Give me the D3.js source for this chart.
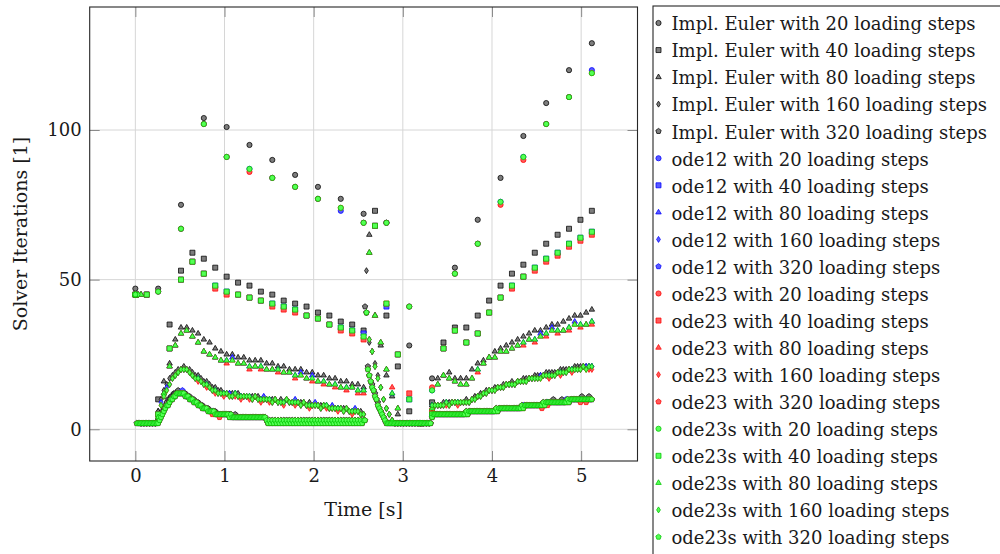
<!DOCTYPE html>
<html><head><meta charset="utf-8">
<script src="https://cdn.jsdelivr.net/npm/d3@7"></script>
<style>body{margin:0;background:#fff}svg{display:block}text{font-family:"DejaVu Serif",serif;fill:#1a1a1a}</style>
</head><body><svg id="c" width="1000" height="554"></svg>
<script>
const T_END = 5.12;
const stepCounts = [20, 40, 80, 160, 320];
const solvers = ['Impl. Euler', 'ode12', 'ode23', 'ode23s'];
const xTicks = [0, 1, 2, 3, 4, 5];
const yTicks = [0, 50, 100];

// ---- 20 loading steps ----
const implEuler20 = [47,47,75,104,101,95,90,85,81,77,72,69,28,17,54,70,84,98,109,120,129];
const ode12_20    = [45,46,67,102,91,87,84,81,77,73,69,69,41,13,52,62,76,91,102,111,120];
const ode23_20    = [45,46,67,102,91,86,84,81,77,74,69,69,41,14,52,62,75,90,102,111,119];
const ode23s_20   = [45,46,67,102,91,87,84,81,77,74,69,69,41,13,52,62,76,91,102,111,119];

// ---- 40 loading steps ----
const implEuler40 = [45,45,10,35,53,59,57,54,51,49, 48,46,45,43,42,41,39,38,36,35, 33,73,38,21,6,2,9,29,34,34, 38,43,48,52,55,59,62,65,67,70, 73];
const ode12_40    = [45,45,5,27,50,56,52,48,46,45, 44,43,42,41,40,38,37,35,34,33, 32,68,41,25,10,2,5,27,33,29, 32,39,44,48,51,54,57,59,62,64, 66];
const ode23_40    = [45,45,5,27,50,56,52,47,45,45, 44,43,41,40,39,38,37,35,33,32, 30,68,42,25,12,2,6,27,33,29, 32,39,44,47,51,53,56,58,61,63, 65];
const ode23s_40   = [45,45,5,27,50,56,52,48,46,45, 44,43,42,41,40,38,37,35,34,33, 31,68,42,25,10,2,5,27,33,29, 32,39,44,48,51,54,57,59,62,64, 66];

// ---- 80 loading steps ----
const implEuler80 = [45,45,2,2,6,16,22,30,34,34, 33,32,30,29,27,26,25,25,24,24, 23,23,23,22,22,21,21,20,20,20,
  19,19,18,18,17,17,16,16,15,15, 14,65,38,28,18,11,5,2,2,2, 2,2,8,17,18,19,17,17,17,20,
  22,23,24,26,27,28,29,30,31,32, 33,33,34,35,35,36,37,38,38,39, 40];
const ode12_80 = [45,45,2,2,4,12,21,28,32,33, 31,29,26,25,24,23,23,24,22,22, 21,21,21,20,20,20,19,19,18,19,
  17,18,16,16,15,15,14,14,14,13, 13,59,38,29,20,12,7,2,2,2, 2,2,7,15,18,17,16,15,15,17,
  20,22,24,24,26,26,27,28,29,30, 30,32,32,34,33,33,34,36,35,35, 36];
const ode23_80 = [45,45,2,2,4,12,21,28,32,33, 31,29,26,25,24,23,22,23,22,22, 20,21,20,20,20,19,19,19,17,18,
  17,16,16,15,15,14,14,13,14,12, 12,59,38,29,20,14,7,2,2,2, 2,2,7,15,18,17,16,15,15,17,
  19,22,24,24,26,26,27,28,28,30, 29,31,31,33,32,33,33,35,34,35, 35];
const ode23s_80 = [45,45,2,2,4,12,21,28,32,33, 31,29,26,25,24,23,23,23,22,22, 21,21,21,20,20,20,19,19,18,18,
  17,17,16,16,15,15,14,14,14,13, 13,59,38,29,20,12,7,2,2,2, 2,2,7,15,18,17,16,15,15,17,
  20,22,24,24,26,26,27,28,29,30, 30,31,32,33,33,33,34,35,35,35, 36];

// ---- 160 loading steps ----
const implEuler160 = [
  45,45,2,2,2,2,2,2,6,10, 13,15,17,18,19,20,20,21,20,20, 19,18,18,17,16,16,15,14,14,13,
  13,12,12,12,12,12,12,11,11,11, 11,11,11,11,10,10,10,10,10,10, 9,10,9,10,9,9,9,9,9,9,
  8,9,8,8,8,8,8,8,7,7, 7,7,7,7,7,6,6,6,6,6, 5,53,29,26,22,18,14,10,7,5,
  3,2,2,2,2,2,2,2,2,2, 2,2,2,2,8,8,8,8,9,9, 9,9,9,9,9,9,10,9,10,11,
  11,12,12,13,13,13,14,14,14,15, 15,15,16,15,16,16,17,17,17,17, 18,18,18,18,19,19,19,19,19,20,
  20,20,20,20,21,21,21,21,21,21, 21];
const ode12_160 = [
  45,45,2,2,2,2,2,2,5,9, 12,14,15,17,18,19,20,20,20,19, 18,17,17,16,15,15,14,13,13,12,
  12,12,12,12,11,12,11,11,11,11, 11,10,11,10,10,11,10,10,9,10, 9,9,9,10,9,9,10,9,8,9,
  8,8,8,9,8,7,8,8,7,8, 7,7,7,6,7,6,6,7,6,5, 5,39,30,26,21,17,14,10,7,5,
  3,2,2,2,2,2,2,2,2,2, 2,2,2,2,8,8,8,8,8,9, 8,9,9,9,9,9,9,9,10,10,
  11,11,12,12,13,13,13,14,14,14, 15,15,15,15,16,16,16,16,17,17, 17,17,18,18,18,18,18,18,19,19,
  19,19,20,20,20,20,20,21,21,21, 21];
const ode23_160 = [
  45,45,2,2,2,2,2,2,4,8, 11,13,15,17,18,19,20,20,20,19, 18,17,16,16,15,14,14,13,12,12,
  12,11,12,11,11,11,11,10,11,11, 10,10,11,10,9,10,10,9,9,10, 9,9,8,10,9,9,8,9,8,9,
  8,7,8,8,8,7,8,7,7,7, 7,6,7,6,7,6,5,6,6,5, 5,39,30,26,21,17,14,10,7,5,
  3,2,2,2,2,2,2,2,2,2, 2,2,2,2,7,8,8,8,8,8, 8,9,9,8,9,9,9,9,10,10,
  11,11,12,12,13,13,13,14,14,14, 15,15,15,15,16,16,16,16,17,17, 17,17,17,18,18,17,18,18,19,18,
  19,19,20,19,20,20,20,21,20,20, 20];
const ode23s_160 = [
  45,45,2,2,2,2,2,2,4,8, 11,13,15,17,18,19,20,20,20,19, 18,17,17,16,15,15,14,13,13,12,
  12,12,12,11,11,12,11,11,11,11, 11,10,11,10,10,10,10,10,9,10, 9,9,9,10,9,9,9,9,8,9,
  8,8,8,8,8,7,8,8,7,7, 7,7,7,6,7,6,6,6,6,5, 5,39,30,26,21,17,14,10,7,5,
  3,2,2,2,2,2,2,2,2,2, 2,2,2,2,8,8,8,8,8,9, 8,9,9,9,9,9,9,9,10,10,
  11,11,12,12,13,13,13,14,14,14, 15,15,15,15,16,16,16,16,17,17, 17,17,17,18,18,18,18,18,19,19,
  19,19,20,20,20,20,20,21,20,21, 21];

// ---- 320 loading steps ----
const implEuler320 = [
  45,2,2,2,2,2,2,2,2,2, 2,2,2,2,2,2,3,4,5,6, 7,8,9,10,10,11,11,12,12,12, 13,12,12,12,12,12,11,11,11,10,
  10,10,9,9,9,8,8,8,7,7, 7,7,6,6,6,6,6,5,5,5, 5,5,5,5,5,5,5,5,4,4, 5,4,4,4,4,4,4,4,4,4,
  4,4,4,4,4,4,4,4,4,4, 4,4,3,2,3,2,3,2,3,2, 3,2,3,2,3,2,3,2,3,2, 3,2,3,2,3,2,3,2,3,2,
  3,2,3,2,3,2,3,2,3,2, 3,2,3,2,3,2,3,2,3,2, 3,2,3,2,3,2,3,2,3,2, 3,2,3,2,3,2,3,2,3,2,
  3,41,39,21,18,16,15,13,12,10, 9,7,6,5,4,3,2,2,2,2, 2,2,2,2,2,2,2,2,2,2, 2,2,2,2,2,2,2,2,2,2,
  2,2,2,2,2,2,2,2,4,5, 5,5,5,5,5,5,5,5,5,5, 5,5,5,5,5,5,5,5,5,5, 5,5,6,5,6,6,6,6,6,6,
  6,6,6,6,6,6,6,6,6,6, 6,6,6,7,6,7,7,7,7,7, 7,7,7,7,7,7,7,7,7,7, 7,8,7,8,8,8,8,8,8,8,
  8,8,8,8,8,8,9,8,9,9, 9,9,9,10,9,9,9,9,9,10, 9,9,9,10,9,10,10,10,10,10, 10,10,10,11,10,10,10,10,11,10,
  10];
const ode12_320 = [
  45,2,2,2,2,2,2,2,2,2, 2,2,2,2,2,2,2,3,4,5, 6,7,8,8,9,10,10,11,11,12, 12,12,12,13,12,11,11,11,10,10,
  10,9,9,9,8,8,8,7,7,7, 7,6,6,6,6,6,5,5,5,5, 5,5,5,5,5,5,4,5,4,4, 4,4,4,4,4,4,4,4,4,4,
  4,4,4,4,4,4,4,4,4,4, 4,4,3,2,3,2,3,2,3,2, 3,2,3,2,3,2,3,2,3,2, 3,2,3,2,3,2,3,2,3,2,
  3,2,3,2,3,2,3,2,3,2, 3,2,3,2,3,2,3,2,3,2, 3,2,3,2,3,2,3,2,3,2, 3,2,3,2,3,2,3,2,3,2,
  3,3,39,20,18,16,14,13,11,10, 8,7,6,5,4,3,2,2,2,2, 2,2,2,2,2,2,2,2,2,2, 2,2,2,2,2,2,2,2,2,2,
  2,2,2,2,2,2,2,2,4,5, 5,5,5,5,5,5,5,5,5,5, 5,5,5,5,5,5,5,5,5,5, 5,5,6,5,6,6,6,6,6,6,
  6,6,6,6,6,6,6,6,6,6, 6,6,6,7,6,7,7,7,7,7, 7,7,7,7,7,7,7,7,7,7, 7,8,8,8,8,8,8,8,8,8,
  8,8,8,8,8,8,9,8,9,9, 9,9,9,9,9,9,9,9,9,9, 9,9,10,10,9,10,10,10,10,10, 10,10,10,10,10,10,10,10,10,10,
  10];
const ode23_320 = [
  45,2,2,2,2,2,2,2,2,2, 2,2,2,2,2,2,2,3,4,5, 6,7,8,8,9,10,10,11,11,12, 12,12,12,12,12,11,11,11,10,10,
  10,9,9,9,8,8,8,7,7,7, 7,6,6,6,5,6,5,5,5,4, 5,5,5,5,5,5,4,5,4,4, 4,4,4,4,4,4,4,4,4,4,
  4,4,4,4,4,4,4,4,4,4, 4,4,3,2,3,2,3,2,3,2, 3,2,3,2,3,2,3,2,3,2, 3,2,3,2,3,2,3,2,3,2,
  3,2,3,2,3,2,3,2,3,2, 3,2,3,2,3,2,3,2,3,2, 3,2,3,2,3,2,3,2,3,2, 3,2,3,2,3,2,3,2,3,2,
  3,3,39,20,18,16,14,13,11,10, 8,7,6,5,4,3,2,2,2,2, 2,2,2,2,2,2,2,2,2,2, 2,2,2,2,2,2,2,2,2,2,
  2,2,2,2,2,2,2,2,4,5, 5,5,5,5,5,5,5,5,5,5, 5,5,5,5,5,5,5,5,5,5, 5,5,6,5,6,6,6,6,6,6,
  6,6,6,6,6,6,6,6,6,6, 6,6,6,7,6,7,7,7,7,7, 7,7,7,7,7,7,7,7,7,7, 7,8,7,8,8,8,8,8,8,8,
  8,8,8,8,8,7,9,8,9,8, 9,9,9,9,9,9,9,9,9,9, 9,9,9,10,9,10,10,10,10,10, 10,10,9,10,10,10,9,10,10,10,
  10];
const ode23s_320 = [
  45,2,2,2,2,2,2,2,2,2, 2,2,2,2,2,2,2,3,4,5, 6,7,8,8,9,10,10,11,11,12, 12,12,12,12,12,11,11,11,10,10,
  10,9,9,9,8,8,8,7,7,7, 7,6,6,6,6,6,5,5,5,5, 5,5,5,5,5,5,4,5,4,4, 4,4,4,4,4,4,4,4,4,4,
  4,4,4,4,4,4,4,4,4,4, 4,4,3,2,3,2,3,2,3,2, 3,2,3,2,3,2,3,2,3,2, 3,2,3,2,3,2,3,2,3,2,
  3,2,3,2,3,2,3,2,3,2, 3,2,3,2,3,2,3,2,3,2, 3,2,3,2,3,2,3,2,3,2, 3,2,3,2,3,2,3,2,3,2,
  3,3,39,20,18,16,14,13,11,10, 8,7,6,5,4,3,2,2,2,2, 2,2,2,2,2,2,2,2,2,2, 2,2,2,2,2,2,2,2,2,2,
  2,2,2,2,2,2,2,2,4,5, 5,5,5,5,5,5,5,5,5,5, 5,5,5,5,5,5,5,5,5,5, 5,5,6,5,6,6,6,6,6,6,
  6,6,6,6,6,6,6,6,6,6, 6,6,6,7,6,7,7,7,7,7, 7,7,7,7,7,7,7,7,7,7, 7,8,7,8,8,8,8,8,8,8,
  8,8,8,8,8,8,9,8,9,9, 9,9,9,9,9,9,9,9,9,9, 9,9,9,10,9,10,10,10,10,10, 10,10,10,10,10,10,10,10,10,10,
  10];

const seriesValues = {
  'Impl. Euler': [implEuler20, implEuler40, implEuler80, implEuler160, implEuler320],
  'ode12': [ode12_20, ode12_40, ode12_80, ode12_160, ode12_320],
  'ode23': [ode23_20, ode23_40, ode23_80, ode23_160, ode23_320],
  'ode23s': [ode23s_20, ode23s_40, ode23s_80, ode23s_160, ode23s_320]
};

const colors = {
  'Impl. Euler': {stroke: '#000000', fill: '#7d7d7d'},
  'ode12': {stroke: '#0000ff', fill: '#5a5aff'},
  'ode23': {stroke: '#ff0000', fill: '#ff5a5a'},
  'ode23s': {stroke: '#00c400', fill: '#55ff55'}
};
const shapes = ['circle', 'square', 'triangle', 'diamond', 'pentagon'];

function markerPath(shape) {
  if (shape === 'circle') return 'M2.6,0A2.6,2.6 0 1,1 -2.6,0A2.6,2.6 0 1,1 2.6,0Z';
  if (shape === 'square') return 'M-2.5,-2.5H2.5V2.5H-2.5Z';
  if (shape === 'triangle') return 'M0,-3.1L2.75,1.6L-2.75,1.6Z';
  if (shape === 'diamond') return 'M0,-3L1.9,0L0,3L-1.9,0Z';
  const p = d3.path();
  for (let k = 0; k < 5; k++) {
    const a = -Math.PI / 2 + k * 2 * Math.PI / 5;
    const px = 2.8 * Math.cos(a), py = 2.8 * Math.sin(a);
    if (k === 0) p.moveTo(px, py); else p.lineTo(px, py);
  }
  p.closePath();
  return p.toString();
}

const W = 1000, H = 554;
const L = 89.7, R = 637.5, T = 7, B = 461;
const svg = d3.select('#c');
const x = d3.scaleLinear().domain([-0.512, 5.632]).range([L, R]);
const y = d3.scaleLinear().domain([-10.6, 141.1]).range([B, T]);

// grid
const grid = svg.append('g');
grid.selectAll('.gx').data(xTicks).join('line')
  .attr('x1', d => x(d)).attr('x2', d => x(d)).attr('y1', T).attr('y2', B)
  .attr('stroke', '#d6d6d6').attr('stroke-width', 1);
grid.selectAll('.gy').data(yTicks).join('line')
  .attr('x1', L).attr('x2', R).attr('y1', d => y(d)).attr('y2', d => y(d))
  .attr('stroke', '#d6d6d6').attr('stroke-width', 1);

// axes (ticks inward)
function styleAxis(g) {
  g.select('.domain').remove();
  g.selectAll('.tick line').attr('stroke', '#8a8a8a');
  g.selectAll('.tick text').attr('font-family', '"DejaVu Serif", serif').attr('font-size', 18).attr('fill', '#1a1a1a');
}
svg.append('g').attr('transform', `translate(0,${B})`)
  .call(d3.axisBottom(x).tickValues(xTicks).tickFormat(d3.format('d')).tickSizeInner(-10).tickSizeOuter(0).tickPadding(8))
  .call(styleAxis);
svg.append('g').attr('transform', `translate(0,${T})`)
  .call(d3.axisTop(x).tickValues(xTicks).tickFormat('').tickSizeInner(-10).tickSizeOuter(0))
  .call(styleAxis);
svg.append('g').attr('transform', `translate(${L},0)`)
  .call(d3.axisLeft(y).tickValues(yTicks).tickFormat(d3.format('d')).tickSizeInner(-10).tickSizeOuter(0).tickPadding(8))
  .call(styleAxis);
svg.append('g').attr('transform', `translate(${R},0)`)
  .call(d3.axisRight(y).tickValues(yTicks).tickFormat('').tickSizeInner(-10).tickSizeOuter(0))
  .call(styleAxis);

// marks
const marks = svg.append('g');
solvers.forEach(s => {
  stepCounts.forEach((n, si) => {
    const vals = seriesValues[s][si];
    const pts = vals.slice(0, n + 1).map((v, i) => ({t: i * T_END / n, v}));
    marks.append('g').selectAll('path').data(pts).join('path')
      .attr('d', markerPath(shapes[si]))
      .attr('transform', d => `translate(${x(d.t)},${y(d.v)})`)
      .attr('fill', colors[s].fill).attr('stroke', colors[s].stroke).attr('stroke-width', 0.75);
  });
});

// frame
svg.append('rect').attr('x', L).attr('y', T).attr('width', R - L).attr('height', B - T)
  .attr('fill', 'none').attr('stroke', '#262626').attr('stroke-width', 1.1);

// axis labels
svg.append('text').attr('x', (L + R) / 2).attr('y', 516).attr('text-anchor', 'middle')
  .attr('font-size', 19).text('Time [s]');
svg.append('text').attr('transform', `translate(27,${(T + B) / 2}) rotate(-90)`).attr('text-anchor', 'middle')
  .attr('font-size', 19).text('Solver Iterations [1]');

// legend
const lg = svg.append('g');
lg.append('rect').attr('x', 653).attr('y', 6).attr('width', 400).attr('height', 600)
  .attr('fill', '#fff').attr('stroke', '#262626').attr('stroke-width', 1.1);
let idx = 0;
solvers.forEach(s => {
  stepCounts.forEach((n, si) => {
    const cy = 23 + 27.05 * idx;
    lg.append('path').attr('d', markerPath(shapes[si])).attr('transform', `translate(658.5,${cy})`)
      .attr('fill', colors[s].fill).attr('stroke', colors[s].stroke).attr('stroke-width', 0.75);
    lg.append('text').attr('x', 671.5).attr('y', cy + 7.3).attr('font-size', 18)
      .text(`${s} with ${n} loading steps`);
    idx++;
  });
});
</script></body></html>
